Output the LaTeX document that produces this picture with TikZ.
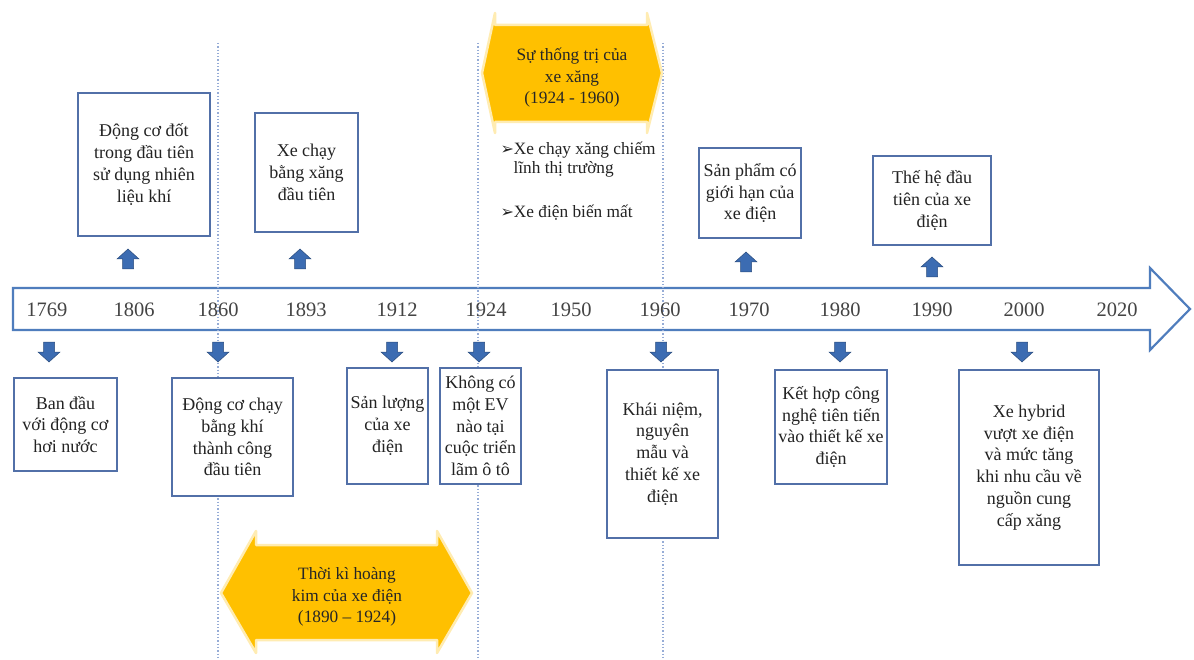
\documentclass[tikz,border=0pt]{standalone}
\usepackage{fontspec}
\setmainfont{Liberation Serif}
\newfontfamily\symfont{DejaVu Sans}

\definecolor{boxblue}{RGB}{82,112,168}
\definecolor{lineblue}{RGB}{79,125,189}
\definecolor{arrblue}{RGB}{60,108,178}
\definecolor{goldfill}{RGB}{255,192,0}
\definecolor{guide}{RGB}{150,172,214}
\definecolor{txt}{RGB}{35,35,35}

\newcommand\boxfont{\fontsize{18}{21.8}\selectfont}
\newcommand\yearfont{\fontsize{20.5}{24}\selectfont}
\newcommand\notefont{\fontsize{17.3}{20}\selectfont}
\newcommand\erafont{\fontsize{17.3}{21.5}\selectfont}

% block arrow marker at a named coordinate; #2 = 1 points up, -1 points down
\newcommand\blockmark[2]{%
  \path[markshape, shift={(#1)}, yscale=#2]
    (-5.5,10) -- (-5.5,0) -- (-11,0) -- (0,-10) -- (11,0) -- (5.5,0)
    -- (5.5,10) -- cycle;}

\begin{document}
\begin{tikzpicture}[x=1pt,y=-1pt,
  infobox/.style={draw=boxblue, line width=2.6pt, fill=white, align=center,
    inner sep=0pt, font=\boxfont, text=txt},
  year/.style={font=\yearfont, text=txt!85!white},
  markshape/.style={fill=arrblue, draw=arrblue!70!black, line width=0.5pt,
    line join=miter},
  guideline/.style={draw=guide, dotted, line width=1.3pt},
  goldshape/.style={fill=goldfill, draw=goldfill!30, line width=2.5pt,
    line join=round},
  goldtext/.style={align=center, font=\erafont, text=black!85},
  note/.style={anchor=west, font=\notefont, text=txt}]

\useasboundingbox (0,0) rectangle (1194,660);
\fill[white] (0,0) rectangle (1194,660);

% timeline arrow
\filldraw[fill=white, draw=lineblue, line width=2.2pt, line join=miter]
  (13,288) -- (1150,288) -- (1150,268) -- (1190,309) -- (1150,350)
  -- (1150,330) -- (13,330) -- cycle;

% guide lines for the eras
\draw[guideline] (218,43) -- (218,660);
\draw[guideline] (478,43) -- (478,660);
\draw[guideline] (663,43) -- (663,660);

% years
\foreach \yr/\xx in {1769/47,1806/134,1860/218,1893/306,1912/397,1924/486,
  1950/571,1960/660,1970/749,1980/840,1990/932,2000/1024,2020/1117}
  \node[year] (y\yr) at (\xx,310) {\yr};

% era of petrol cars
\path[goldshape] (482,73) -- (495,13) -- (495,25) -- (647,25) -- (647,13)
  -- (662,73) -- (647,133) -- (647,122) -- (495,122) -- (495,133) -- cycle;
\node[goldtext] (era1) at (572,78) {Sự thống trị của\\xe xăng\\(1924 - 1960)};

% golden age of electric cars
\path[goldshape] (221,593) -- (256,531) -- (256,545) -- (437,545) -- (437,531)
  -- (472,593) -- (437,653) -- (437,640) -- (256,640) -- (256,653) -- cycle;
\node[goldtext] (era2) at (347,597) {Thời kì hoàng\\kim của xe điện\\(1890 – 1924)};

% notes of the petrol era
\node[note] (n1) at (497,150) {{\symfont\fontsize{16}{18}\selectfont ➢}Xe chạy xăng chiếm};
\node[note] (n1b) at (510,169) {lĩnh thị trường};
\node[note] (n2) at (497,213) {{\symfont\fontsize{16}{18}\selectfont ➢}Xe điện biến mất};

% events above the timeline
\node[infobox, minimum width=132pt, minimum height=143pt] (b1806) at (144,164.5)
  {Động cơ đốt\\trong đầu tiên\\sử dụng nhiên\\liệu khí};
\node[infobox, minimum width=103pt, minimum height=119pt] (b1893) at (306.5,172.5)
  {Xe chạy\\bằng xăng\\đầu tiên};
\node[infobox, minimum width=102pt, minimum height=90pt] (b1970) at (750,193)
  {Sản phẩm có\\giới hạn của\\xe điện};
\node[infobox, minimum width=118pt, minimum height=89pt] (b1990) at (932,200.5)
  {Thế hệ đầu\\tiên của xe\\điện};

% events below the timeline
\node[infobox, minimum width=103pt, minimum height=93pt] (b1769) at (65.5,424.5)
  {Ban đầu\\với động cơ\\hơi nước};
\node[infobox, minimum width=121pt, minimum height=118pt] (b1860) at (232.5,437)
  {Động cơ chạy\\bằng khí\\thành công\\đầu tiên};
\node[infobox, minimum width=81pt, minimum height=116pt] (b1912) at (387.5,426)
  {Sản lượng\\của xe\\điện};
\node[infobox, minimum width=81pt, minimum height=116pt] (b1924) at (480.5,426)
  {Không có\\một EV\\nào tại\\cuộc triển\\lãm ô tô};
\node[infobox, minimum width=111pt, minimum height=168pt] (b1960) at (662.5,454)
  {Khái niệm,\\nguyên\\mẫu và\\thiết kế xe\\điện};
\node[infobox, minimum width=112pt, minimum height=114pt] (b1980) at (831,427)
  {Kết hợp công\\nghệ tiên tiến\\vào thiết kế xe\\điện};
\node[infobox, minimum width=140pt, minimum height=195pt] (b2000) at (1029,467.5)
  {Xe hybrid\\vượt xe điện\\và mức tăng\\khi nhu cầu về\\nguồn cung\\cấp xăng};

% markers pointing from the timeline to the events
\coordinate (m1806) at (128,259);
\coordinate (m1893) at (300,259);
\coordinate (m1970) at (746,262);
\coordinate (m1990) at (932,267);
\coordinate (m1769) at (49,352);
\coordinate (m1860) at (218,352);
\coordinate (m1912) at (392,352);
\coordinate (m1924) at (479,352);
\coordinate (m1960) at (661,352);
\coordinate (m1980) at (840,352);
\coordinate (m2000) at (1022,352);
\foreach \m in {m1806,m1893,m1970,m1990} {\blockmark{\m}{1}}
\foreach \m in {m1769,m1860,m1912,m1924,m1960,m1980,m2000} {\blockmark{\m}{-1}}

\end{tikzpicture}
\end{document}
